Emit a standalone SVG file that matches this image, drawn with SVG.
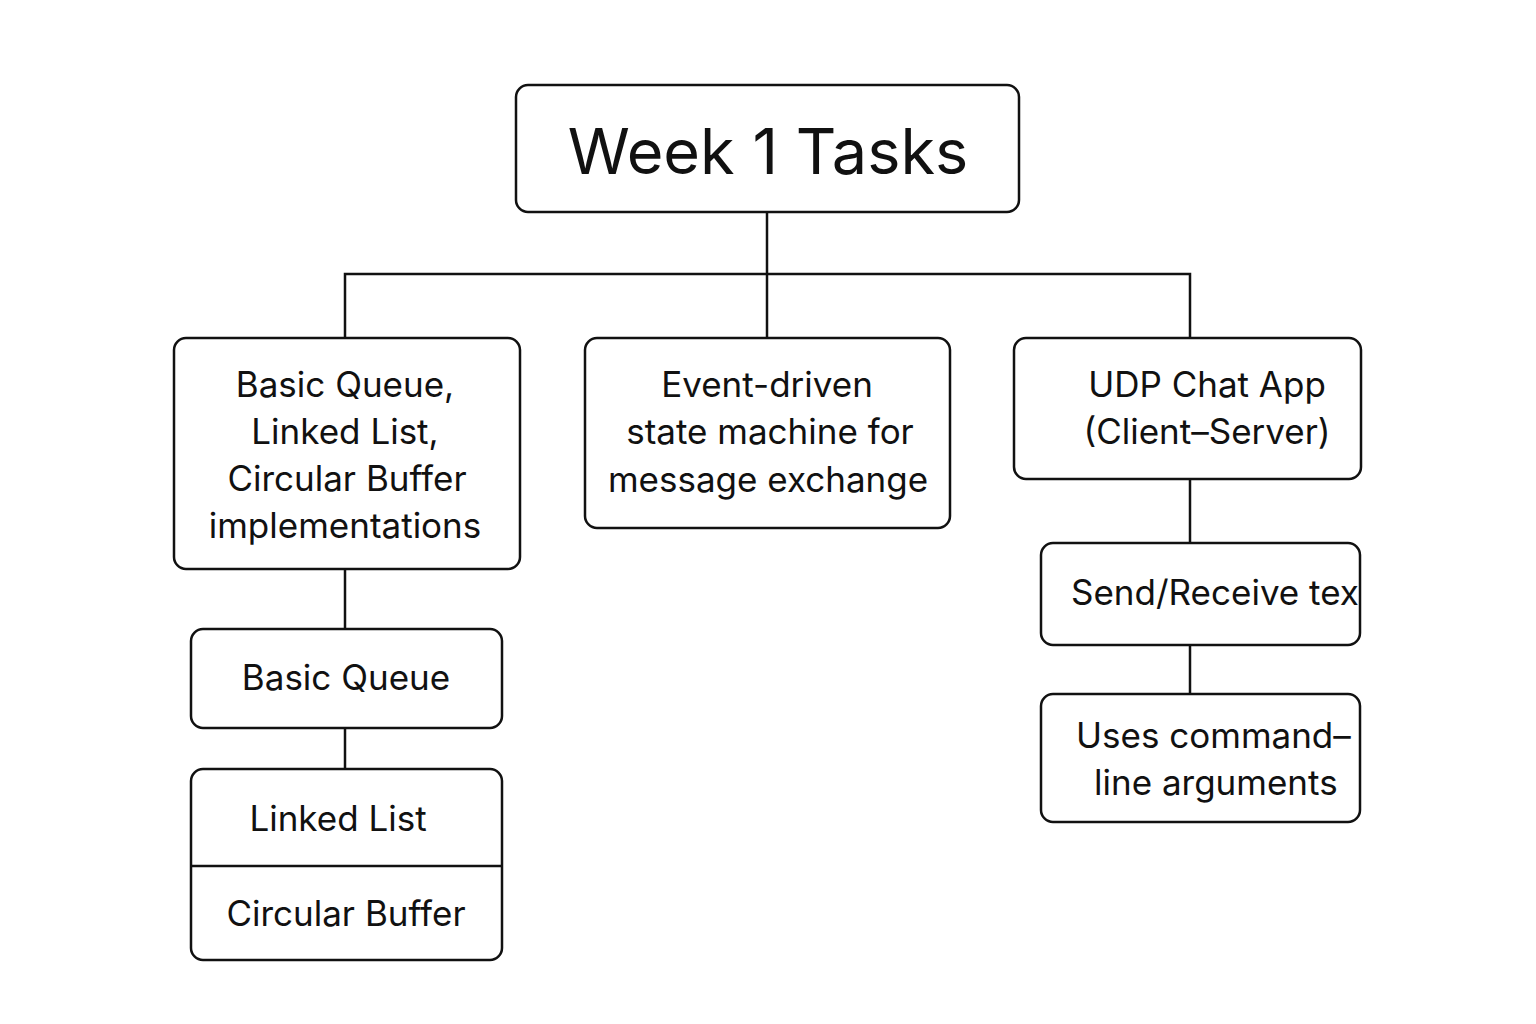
<svg xmlns="http://www.w3.org/2000/svg" width="1536" height="1024" viewBox="0 0 1536 1024">
<style>
.box{fill:#fff;stroke:#111;stroke-width:2.5}
.conn{stroke:#111;stroke-width:2.5;fill:none}
text{font-family:Inter,"Liberation Sans",Arial,sans-serif;fill:#111;font-size:35px}
.c{text-anchor:middle}
.title{font-size:63px}
</style>
<defs>
<clipPath id="clipD"><rect x="1041" y="543" width="319" height="102" rx="12"/></clipPath>
</defs>
<rect width="1536" height="1024" fill="#fff"/>
<g id="connectors">
<path class="conn" d="M767,212 V338"/>
<path class="conn" d="M345,338 V274 H1190 V338"/>
<path class="conn" d="M345,569 V629"/>
<path class="conn" d="M345,728 V769"/>
<path class="conn" d="M1190,479 V543"/>
<path class="conn" d="M1190,645 V694"/>
</g>
<g id="root">
<rect class="box" x="516" y="85" width="503" height="127" rx="12"/>
<text class="c title" x="768" y="174">Week 1 Tasks</text>
</g>
<g id="impl">
<rect class="box" x="174" y="338" width="346" height="231" rx="12"/>
<text class="c" x="345" y="397">Basic Queue,</text>
<text class="c" x="345" y="444">Linked List,</text>
<text class="c" x="347" y="491">Circular Buffer</text>
<text class="c" x="345" y="538">implementations</text>
</g>
<g id="fsm">
<rect class="box" x="585" y="338" width="365" height="190" rx="12"/>
<text class="c" x="767" y="397">Event-driven</text>
<text class="c" x="770" y="444">state machine for</text>
<text class="c" x="768" y="492">message exchange</text>
</g>
<g id="udp">
<rect class="box" x="1014" y="338" width="347" height="141" rx="12"/>
<text class="c" x="1207" y="397">UDP Chat App</text>
<text class="c" x="1207" y="444">(Client–Server)</text>
</g>
<g id="send">
<rect class="box" x="1041" y="543" width="319" height="102" rx="12"/>
<text x="1071" y="605" clip-path="url(#clipD)">Send/Receive text</text>
</g>
<g id="args">
<rect class="box" x="1041" y="694" width="319" height="128" rx="12"/>
<text x="1076" y="748">Uses command–</text>
<text x="1094" y="795">line arguments</text>
</g>
<g id="queue">
<rect class="box" x="191" y="629" width="311" height="99" rx="12"/>
<text class="c" x="346" y="690">Basic Queue</text>
</g>
<g id="listbuf">
<rect class="box" x="191" y="769" width="311" height="191" rx="12"/>
<path class="conn" d="M191,866 H502"/>
<text class="c" x="338" y="831">Linked List</text>
<text class="c" x="346" y="926">Circular Buffer</text>
</g>
</svg>
